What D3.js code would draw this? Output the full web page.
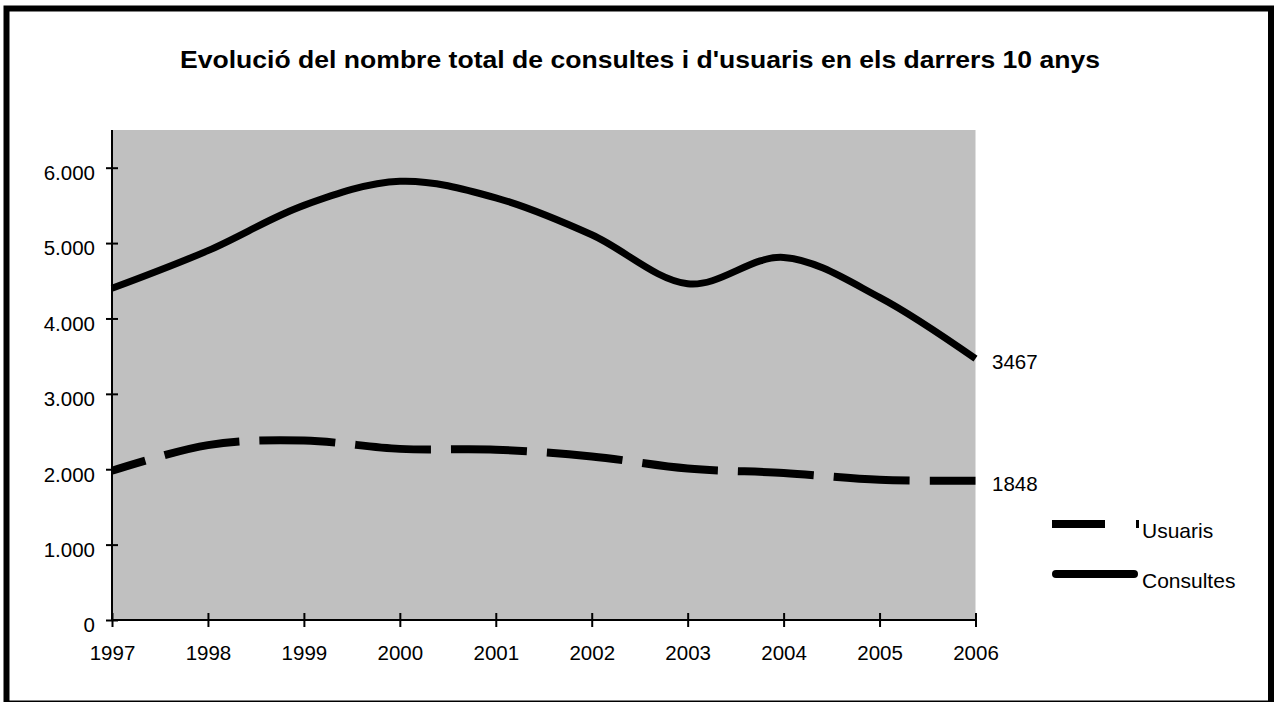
<!DOCTYPE html>
<html>
<head>
<meta charset="utf-8">
<script src="https://cdn.jsdelivr.net/npm/d3@7/dist/d3.min.js"></script>
<style>
  body { margin: 0; background: #fff; }
  svg { display: block; font-family: Arial, "Liberation Sans", sans-serif; }
</style>
</head>
<body>
<svg width="1274" height="702"></svg>
<script>
//data
const years = [1997, 1998, 1999, 2000, 2001, 2002, 2003, 2004, 2005, 2006];
const consultes = [4400, 4900, 5500, 5820, 5600, 5110, 4460, 4810, 4280, 3467];
const usuaris = [1980, 2320, 2380, 2270, 2260, 2170, 2010, 1950, 1860, 1848];
const yTicks = [0, 1000, 2000, 3000, 4000, 5000, 6000];
const title = "Evolució del nombre total de consultes i d'usuaris en els darrers 10 anys";

//set up
const svg = d3.select('svg');
const fmt = d3.format(',');
const label = v => fmt(v).replace(/,/g, '.');

const x = d3.scaleLinear().domain([1997, 2006]).range([112, 975.5]);
const y = d3.scaleLinear().domain([0, 6500]).range([620, 130]);

//frame
svg.append('rect')
  .attr('x', 6.5).attr('y', 8.5)
  .attr('width', 1264.5).attr('height', 695)
  .attr('fill', 'none')
  .attr('stroke', '#000')
  .attr('stroke-width', 6);

//title
svg.append('text')
  .attr('x', 180).attr('y', 68)
  .attr('textLength', 920)
  .attr('lengthAdjust', 'spacingAndGlyphs')
  .style('font-weight', 'bold')
  .style('font-size', '24px')
  .text(title);

//plot area
svg.append('rect')
  .attr('x', x(1997)).attr('y', y(6500))
  .attr('width', x(2006) - x(1997))
  .attr('height', y(0) - y(6500))
  .attr('fill', '#c0c0c0');

//axes
const yAxis = svg.append('g')
  .attr('transform', `translate(${x(1997)},0)`)
  .call(d3.axisLeft(y).tickValues(yTicks).tickSize(6).tickPadding(10).tickFormat(label));
yAxis.select('.domain').attr('d', `M0,${y(6500)}V${y(0)}`);
yAxis.selectAll('.tick line').attr('x1', -6).attr('x2', 6);

const xAxis = svg.append('g')
  .attr('transform', `translate(0,${y(0)})`)
  .call(d3.axisBottom(x).tickValues(years).tickSize(7).tickPadding(22).tickFormat(d3.format('d')));
xAxis.select('.domain').attr('d', `M${x(1997)},0H${x(2006)}`);
xAxis.selectAll('.tick line').attr('y1', -7).attr('y2', 7);

svg.selectAll('.domain, .tick line')
  .attr('stroke', '#000')
  .attr('stroke-width', 2);
svg.selectAll('.tick text')
  .attr('fill', '#000')
  .style('font-size', '20.5px')
  .style('font-family', 'Arial, "Liberation Sans", sans-serif');
yAxis.selectAll('.tick text').attr('dy', '0.58em').attr('x', -17);
xAxis.selectAll('.tick text').attr('dy', '0.55em');

//lines
const line = d3.line()
  .x((d, i) => x(years[i]))
  .y(d => y(d))
  .curve(d3.curveCardinal.tension(0));

svg.append('path')
  .datum(usuaris)
  .attr('d', line)
  .attr('fill', 'none')
  .attr('stroke', '#000')
  .attr('stroke-width', 8)
  .attr('stroke-dasharray', '76,20')
  .attr('stroke-dashoffset', 41);

svg.append('path')
  .datum(consultes)
  .attr('d', line)
  .attr('fill', 'none')
  .attr('stroke', '#000')
  .attr('stroke-width', 7)
  .attr('stroke-linejoin', 'round');

//end labels
const last = years.length - 1;
[consultes, usuaris].forEach(s => {
  svg.append('text')
    .attr('x', 992)
    .attr('y', y(s[last]) + 10)
    .style('font-size', '20.5px')
    .text(s[last]);
});

//legend
const legend = [
  {name: 'Usuaris', y: 524, dash: '53,31'},
  {name: 'Consultes', y: 574, dash: null}
];
legend.forEach(l => {
  svg.append('line')
    .attr('x1', l.dash ? 1052 : 1056).attr('x2', l.dash ? 1139 : 1134)
    .attr('y1', l.y).attr('y2', l.y)
    .attr('stroke', '#000')
    .attr('stroke-width', 8)
    .attr('stroke-linecap', l.dash ? 'butt' : 'round')
    .attr('stroke-dasharray', l.dash);
  svg.append('text')
    .attr('x', 1142)
    .attr('y', l.y + 14)
    .style('font-size', '21px')
    .text(l.name);
});
</script>
</body>
</html>
